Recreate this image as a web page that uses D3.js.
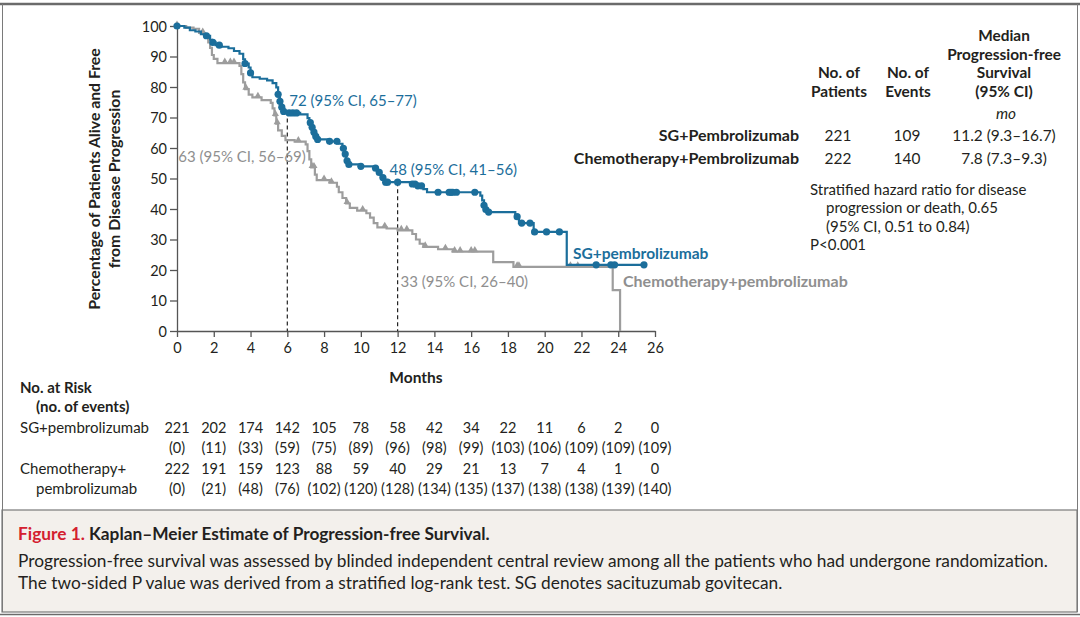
<!DOCTYPE html>
<html>
<head>
<meta charset="utf-8">
<script src="https://cdn.jsdelivr.net/npm/d3@7"></script>
<style>
  body { margin: 0; background: #fff; }
  svg text { font-family: Lato, "Open Sans", sans-serif; }
</style>
</head>
<body>
<svg id="chart" width="1080" height="617"></svg>
<script>
// step points of the Kaplan-Meier curves: [month, percent after the step]
const sgSteps = [
  [0, 100], [0.4, 99.5], [0.7, 98.6], [1.0, 98.2], [1.3, 97.3], [1.6, 96.8], [1.8, 95.5],
  [1.9, 94.6], [2.1, 93.7], [2.4, 93.2], [2.8, 92.7], [3.1, 91.8], [3.4, 90.9], [3.6, 89.1],
  [3.7, 87.7], [3.9, 86.4], [4.0, 84.6], [4.1, 83.2], [4.5, 82.7], [4.9, 82.2], [5.2, 81.3],
  [5.4, 79.9], [5.5, 77.6], [5.6, 75.3], [5.7, 73.4], [5.8, 72.0], [6.1, 71.5], [6.7, 71.0],
  [7.1, 69.8], [7.2, 68.3], [7.3, 66.8], [7.4, 65.2], [7.5, 63.8], [7.6, 62.8], [8.2, 62.2],
  [8.8, 61.4], [9.0, 59.9], [9.1, 58.0], [9.2, 55.8], [9.3, 54.6], [10.0, 54.0], [10.7, 53.4],
  [10.9, 52.0], [11.1, 50.3], [11.3, 48.8], [12.7, 48.2], [13.0, 47.6], [13.4, 46.5], [13.6, 45.5],
  [16.5, 44.4], [16.6, 42.8], [16.7, 41.2], [16.8, 39.8], [16.9, 39.0], [18.4, 37.5], [18.6, 35.4],
  [19.4, 32.5], [21.2, 21.7], [25.4, 21.7]
];
const chemoSteps = [
  [0, 100], [0.5, 99.5], [0.9, 99.1], [1.2, 97.7], [1.5, 96.4], [1.7, 94.6], [1.8, 92.8],
  [1.9, 90.5], [2.0, 89.2], [2.2, 87.8], [3.4, 86.9], [3.5, 84.2], [3.6, 81.5], [3.7, 79.3],
  [3.9, 77.5], [4.1, 76.6], [4.6, 75.7], [5.1, 74.8], [5.2, 73.0], [5.3, 70.7], [5.4, 68.0],
  [5.5, 65.8], [5.7, 64.0], [5.9, 62.6], [6.4, 62.1], [7.0, 61.2], [7.1, 59.0], [7.2, 56.3],
  [7.3, 53.6], [7.5, 51.3], [7.6, 49.5], [8.3, 48.6], [8.7, 47.3], [8.8, 45.5], [9.0, 43.6],
  [9.2, 41.8], [9.4, 40.4], [9.8, 39.5], [10.3, 38.6], [10.5, 37.2], [10.7, 35.4], [10.9, 34.0],
  [11.4, 33.6], [12.0, 33.0], [12.8, 31.8], [13.0, 30.0], [13.2, 28.6], [13.4, 27.6], [14.2, 26.8],
  [15.0, 26.0], [17.2, 22.6], [18.3, 21.0], [23.7, 13.4], [24.1, 0]
];
// censoring times (months)
const sgCensor = [0, 1.6, 1.95, 2.3, 3.7, 4.0, 5.5, 5.6, 5.7, 5.8, 6.1, 6.3, 6.5, 7.25, 7.35, 7.45,
  7.55, 7.65, 8.3, 8.7, 9.05, 9.15, 9.25, 9.35, 10.0, 10.8, 11.0, 11.2, 11.35, 11.45, 12.0, 12.8,
  12.95, 13.1, 13.3, 14.2, 14.8, 14.9, 15.0, 15.2, 16.2, 16.7, 16.8, 16.95, 18.5, 18.75, 19.2,
  19.45, 20.1, 20.8, 22.8, 23.6, 23.8, 25.4];
const chemoCensor = [0, 1.4, 2.6, 2.9, 3.1, 3.75, 4.4, 5.35, 5.45, 6.6, 7.35, 7.45, 8.0, 8.4,
  9.25, 10.1, 11.3, 12.2, 12.5, 13.5, 14.6, 15.1, 15.4, 16.0, 16.2, 18.5, 18.6, 21.4, 21.8];

const months = [0, 2, 4, 6, 8, 10, 12, 14, 16, 18, 20, 22, 24, 26];
const yTicks = [0, 10, 20, 30, 40, 50, 60, 70, 80, 90, 100];
const sgRisk = [221, 202, 174, 142, 105, 78, 58, 42, 34, 22, 11, 6, 2, 0];
const sgEvents = [0, 11, 33, 59, 75, 89, 96, 98, 99, 103, 106, 109, 109, 109];
const chemoRisk = [222, 191, 159, 123, 88, 59, 40, 29, 21, 13, 7, 4, 1, 0];
const chemoEvents = [0, 21, 48, 76, 102, 120, 128, 134, 135, 137, 138, 138, 139, 140];

const sgLabel = "SG+pembrolizumab";
const chemoLabel = "Chemotherapy+pembrolizumab";
const landmarks = [
  { month: 6, text: "72 (95% CI, 65\u201377)", series: "sg" },
  { month: 6, text: "63 (95% CI, 56\u201369)", series: "chemo" },
  { month: 12, text: "48 (95% CI, 41\u201356)", series: "sg" },
  { month: 12, text: "33 (95% CI, 26\u201340)", series: "chemo" }
];
const tableRows = [
  { name: "SG+Pembrolizumab", patients: 221, events: 109, median: "11.2 (9.3\u201316.7)" },
  { name: "Chemotherapy+Pembrolizumab", patients: 222, events: 140, median: "7.8 (7.3\u20139.3)" }
];

const BLUE = "#1b6e9b", GRAY = "#9d9d9d", GRAYTXT = "#8f8f8f", INK = "#231f20";
const svg = d3.select("#chart");

// frame and caption box
svg.append("rect").attr("x", 0).attr("y", 0).attr("width", 1080).attr("height", 617).attr("fill", "#fff");
svg.append("rect").attr("x", 2).attr("y", 510).attr("width", 1075).attr("height", 102)
  .attr("fill", "#f3f0ec").attr("stroke", "#7a7a7a").attr("stroke-width", 1.2);
svg.append("line").attr("x1", 0).attr("x2", 1080).attr("y1", 4).attr("y2", 4)
  .attr("stroke", "#6b6b6b").attr("stroke-width", 2.5);
svg.append("line").attr("x1", 2.5).attr("x2", 2.5).attr("y1", 4).attr("y2", 612).attr("stroke", "#7a7a7a");
svg.append("line").attr("x1", 1077.5).attr("x2", 1077.5).attr("y1", 4).attr("y2", 612).attr("stroke", "#7a7a7a");
svg.append("line").attr("x1", 0).attr("x2", 1080).attr("y1", 614.5).attr("y2", 614.5)
  .attr("stroke", "#6b6b6b").attr("stroke-width", 1.5);

const x = d3.scaleLinear().domain([0, 26]).range([177, 655]);
const y = d3.scaleLinear().domain([0, 100]).range([331, 26]);

// axes
const yAxis = svg.append("g").attr("transform", "translate(177,0)")
  .call(d3.axisLeft(y).tickValues(yTicks).tickSize(7).tickPadding(3).tickSizeOuter(0));
const xAxis = svg.append("g").attr("transform", "translate(0,331)")
  .call(d3.axisBottom(x).tickValues(months).tickSize(6).tickPadding(6).tickSizeOuter(0));
[yAxis, xAxis].forEach(g => {
  g.select(".domain").attr("stroke", "#555").attr("stroke-width", 1.3);
  g.selectAll(".tick line").attr("stroke", "#555").attr("stroke-width", 1.3);
  g.selectAll(".tick text").attr("fill", INK).style("font-size", "14.5px")
    .style("font-family", "Lato, sans-serif");
});
yAxis.selectAll(".tick text").attr("dy", "0.36em");

// axis titles
svg.append("text").attr("transform", "translate(100,179) rotate(-90)")
  .attr("text-anchor", "middle").attr("font-weight", "bold").attr("fill", INK)
  .style("font-size", "15.8px").text("Percentage of Patients Alive and Free");
svg.append("text").attr("transform", "translate(120,179) rotate(-90)")
  .attr("text-anchor", "middle").attr("font-weight", "bold").attr("fill", INK)
  .style("font-size", "15.8px").text("from Disease Progression");
svg.append("text").attr("x", 416).attr("y", 383).attr("text-anchor", "middle")
  .attr("font-weight", "bold").attr("fill", INK).style("font-size", "15.5px").text("Months");

// survival lookup from the step data
function survAt(steps, t) {
  const i = d3.bisector(d => d[0]).right(steps, t) - 1;
  return steps[Math.max(0, i)][1];
}

// landmark dashed lines
[6, 12].forEach(m => {
  const top = Math.max(survAt(sgSteps, m), survAt(chemoSteps, m));
  svg.append("line").attr("x1", x(m)).attr("x2", x(m)).attr("y1", y(top)).attr("y2", y(0))
    .attr("stroke", "#222").attr("stroke-width", 1.2).attr("stroke-dasharray", "4,3");
});

const step = d3.line().x(d => x(d[0])).y(d => y(d[1])).curve(d3.curveStepAfter);

svg.append("path").datum(chemoSteps).attr("d", step)
  .attr("fill", "none").attr("stroke", GRAY).attr("stroke-width", 2.2);
svg.append("g").selectAll("path").data(chemoCensor).join("path")
  .attr("d", d3.symbol().type(d3.symbolTriangle).size(22))
  .attr("transform", d => `translate(${x(d)},${y(survAt(chemoSteps, d)) - 1.5})`)
  .attr("fill", GRAY);

svg.append("path").datum(sgSteps).attr("d", step)
  .attr("fill", "none").attr("stroke", BLUE).attr("stroke-width", 2.2);
svg.append("g").selectAll("circle").data(sgCensor).join("circle")
  .attr("cx", d => x(d)).attr("cy", d => y(survAt(sgSteps, d)))
  .attr("r", 3.6).attr("fill", BLUE);

// landmark annotations
const annotPos = [
  { dx: 2, y: 106 }, { dx: -109, y: 162 }, { dx: -8, y: 175 }, { dx: 3, y: 287 }
];
landmarks.forEach((d, i) => {
  svg.append("text").attr("x", x(d.month) + annotPos[i].dx).attr("y", annotPos[i].y)
    .attr("fill", d.series === "sg" ? BLUE : GRAYTXT).style("font-size", "15px").text(d.text);
});

// curve labels
svg.append("text").attr("x", 573).attr("y", 259).attr("fill", BLUE)
  .attr("font-weight", "bold").style("font-size", "15.5px").text(sgLabel);
svg.append("text").attr("x", 623).attr("y", 287).attr("fill", GRAYTXT)
  .attr("font-weight", "bold").style("font-size", "16px").text(chemoLabel);

// summary table
const FS = "15.4px";
const hdr = svg.append("g").attr("font-weight", "bold").attr("fill", INK)
  .attr("text-anchor", "middle").style("font-size", FS);
["Median", "Progression-free", "Survival", "(95% CI)"].forEach((t, i) =>
  hdr.append("text").attr("x", 1004).attr("y", 41 + i * 18.5).text(t));
["No. of", "Patients"].forEach((t, i) =>
  hdr.append("text").attr("x", 839).attr("y", 78 + i * 18.5).text(t));
["No. of", "Events"].forEach((t, i) =>
  hdr.append("text").attr("x", 908).attr("y", 78 + i * 18.5).text(t));
svg.append("text").attr("x", 1006).attr("y", 119).attr("text-anchor", "middle")
  .attr("font-style", "italic").attr("fill", INK).style("font-size", FS).text("mo");
tableRows.forEach((r, i) => {
  const yy = 141 + i * 22.5;
  svg.append("text").attr("x", 799).attr("y", yy).attr("text-anchor", "end")
    .attr("font-weight", "bold").attr("fill", INK).style("font-size", "16px").text(r.name);
  [[838, r.patients], [907, r.events], [1004, r.median]].forEach(([cx, v]) =>
    svg.append("text").attr("x", cx).attr("y", yy).attr("text-anchor", "middle")
      .attr("fill", INK).style("font-size", FS).text(v));
});
[["Stratified hazard ratio for disease", 810], ["progression or death, 0.65", 826],
 ["(95% CI, 0.51 to 0.84)", 826], ["P<0.001", 810]].forEach(([t, xx], i) =>
  svg.append("text").attr("x", xx).attr("y", 195 + i * 18.3).attr("fill", INK)
    .style("font-size", "15px").text(t));

// number at risk
const risk = svg.append("g").attr("fill", INK).style("font-size", "15px");
risk.append("text").attr("x", 20).attr("y", 393).attr("font-weight", "bold").text("No. at Risk");
risk.append("text").attr("x", 36).attr("y", 412).attr("font-weight", "bold").text("(no. of events)");
risk.append("text").attr("x", 20).attr("y", 433).text("SG+pembrolizumab");
risk.append("text").attr("x", 20).attr("y", 474).text("Chemotherapy+");
risk.append("text").attr("x", 36).attr("y", 494).text("pembrolizumab");
[[sgRisk, 433, false], [sgEvents, 453, true], [chemoRisk, 474, false], [chemoEvents, 494, true]]
  .forEach(([arr, yy, paren]) => {
    risk.append("g").selectAll("text").data(arr).join("text")
      .attr("x", (d, i) => x(months[i])).attr("y", yy).attr("text-anchor", "middle")
      .style("font-size", "14.5px")
      .text(d => paren ? `(${d})` : d);
  });

// caption
const cap = svg.append("text").attr("x", 18).attr("y", 540).style("font-size", "17.3px")
  .attr("font-weight", "bold");
cap.append("tspan").attr("fill", "#d4202f").text("Figure 1. ");
cap.append("tspan").attr("fill", INK).text("Kaplan\u2013Meier Estimate of Progression-free Survival.");
["Progression-free survival was assessed by blinded independent central review among all the patients who had undergone randomization.",
 "The two-sided P value was derived from a stratified log-rank test. SG denotes sacituzumab govitecan."]
  .forEach((t, i) => svg.append("text").attr("x", 18).attr("y", 567 + i * 21.5)
    .attr("fill", INK).style("font-size", "17.3px").text(t));
</script>
</body>
</html>
